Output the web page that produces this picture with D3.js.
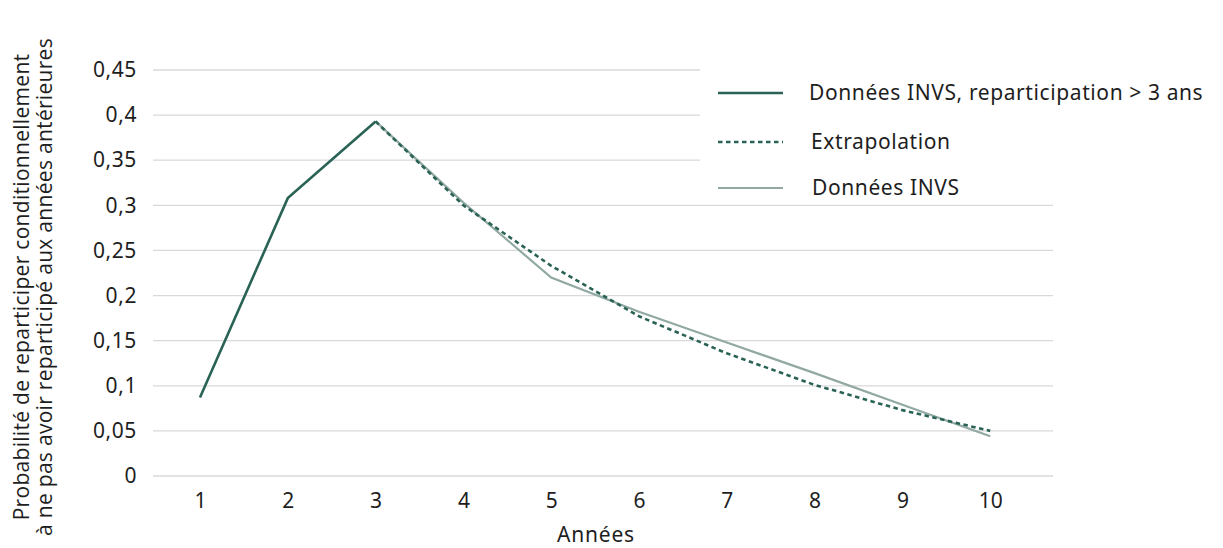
<!DOCTYPE html>
<html>
<head>
<meta charset="utf-8">
<script src="https://cdn.jsdelivr.net/npm/d3@7"></script>
<style>
  html, body { margin: 0; padding: 0; background: #fff; }
  svg { display: block; }
</style>
</head>
<body>
<svg id="chart" width="1223" height="548"></svg>
<script>
// ---- Data ----
const years = [1, 2, 3, 4, 5, 6, 7, 8, 9, 10];
const invs3ans = [0.087, 0.308, 0.393];                                   // years 1-3
const extrapolation = [null, null, 0.393, 0.300, 0.233, 0.177, 0.136, 0.101, 0.073, 0.050];
const invs = [0.087, 0.308, 0.393, 0.303, 0.220, 0.182, 0.148, 0.114, 0.079, 0.044];
const yTicks = [0, 0.05, 0.1, 0.15, 0.2, 0.25, 0.3, 0.35, 0.4, 0.45];
const yTickLabels = ["0", "0,05", "0,1", "0,15", "0,2", "0,25", "0,3", "0,35", "0,4", "0,45"];
const legendLabels = ["Données INVS, reparticipation > 3 ans", "Extrapolation", "Données INVS"];
const yTitle = ["Probabilité de reparticiper conditionnellement", "à ne pas avoir reparticipé aux années antérieures"];
const xTitle = "Années";

// ---- Style ----
const darkColor = "#2a6356";
const lightColor = "#91a9a2";
const gridColor = "#d9d9d9";
const textColor = "#1e1e1e";
const mainFont = "'Noto Sans', 'Open Sans', sans-serif";
const fontSize = 21;
const spacing = 0.6;

const svg = d3.select("#chart");

const x = d3.scaleLinear().domain([0.465, 10.715]).range([153, 1053]);
const y = d3.scaleLinear().domain([0, 0.45]).range([476, 70]);

// Gridlines
svg.append("g")
  .selectAll("line")
  .data(yTicks)
  .join("line")
  .attr("x1", x.range()[0])
  .attr("x2", x.range()[1])
  .attr("y1", d => y(d))
  .attr("y2", d => y(d))
  .attr("stroke", gridColor)
  .attr("stroke-width", 1.3);

// Y axis tick labels
const yAxis = d3.axisLeft(y).tickValues(yTicks).tickSize(0).tickPadding(0)
  .tickFormat((d, i) => yTickLabels[i]);
svg.append("g")
  .attr("transform", `translate(137,0)`)
  .call(yAxis)
  .call(g => g.select(".domain").remove())
  .selectAll("text")
  .attr("font-family", mainFont)
  .attr("font-size", fontSize)
  .attr("letter-spacing", spacing)
  .attr("fill", textColor);

// X axis tick labels
const xAxis = d3.axisBottom(x).tickValues(years).tickSize(0).tickPadding(0)
  .tickFormat(d3.format("d"));
svg.append("g")
  .attr("transform", `translate(0,493)`)
  .call(xAxis)
  .call(g => g.select(".domain").remove())
  .selectAll("text")
  .attr("font-family", mainFont)
  .attr("font-size", fontSize)
  .attr("fill", textColor);

// Axis titles
svg.append("text")
  .attr("x", 596).attr("y", 542)
  .attr("text-anchor", "middle")
  .attr("font-family", mainFont)
  .attr("font-size", fontSize)
  .attr("letter-spacing", 0.8)
  .attr("fill", textColor)
  .text(xTitle);

const yt = svg.append("text")
  .attr("transform", "translate(0,287) rotate(-90)")
  .attr("text-anchor", "middle")
  .attr("font-family", "'Open Sans', sans-serif")
  .attr("font-size", fontSize)
  .attr("letter-spacing", 0.3)
  .attr("fill", textColor);
yt.append("tspan").attr("x", 0).attr("y", 29).text(yTitle[0]);
yt.append("tspan").attr("x", 0).attr("y", 52).text(yTitle[1]);

// Lines
const line = d3.line()
  .defined(d => d[1] != null)
  .x(d => x(d[0]))
  .y(d => y(d[1]));

svg.append("path")
  .datum(years.map((yr, i) => [yr, invs[i]]).filter(d => d[0] >= 3))
  .attr("d", line)
  .attr("fill", "none")
  .attr("stroke", lightColor)
  .attr("stroke-width", 2.2);

svg.append("path")
  .datum(years.map((yr, i) => [yr, extrapolation[i]]))
  .attr("d", line)
  .attr("fill", "none")
  .attr("stroke", darkColor)
  .attr("stroke-width", 2.6)
  .attr("stroke-dasharray", "4.5,3.5");

svg.append("path")
  .datum(invs3ans.map((v, i) => [years[i], v]))
  .attr("d", line)
  .attr("fill", "none")
  .attr("stroke", darkColor)
  .attr("stroke-width", 2.6);

// Legend (white box hiding gridlines)
svg.append("rect")
  .attr("x", 700).attr("y", 60)
  .attr("width", 1223 - 700).attr("height", 140)
  .attr("fill", "#fff");

const legendRows = [
  { label: legendLabels[0], color: darkColor, dash: null, width: 2.6, y: 93, tx: 809 },
  { label: legendLabels[1], color: darkColor, dash: "4.5,3.5", width: 2.6, y: 142, tx: 811 },
  { label: legendLabels[2], color: lightColor, dash: null, width: 2.2, y: 188, tx: 812 }
];
const lg = svg.append("g").selectAll("g").data(legendRows).join("g");
lg.append("line")
  .attr("x1", 718).attr("x2", 783)
  .attr("y1", d => d.y).attr("y2", d => d.y)
  .attr("stroke", d => d.color)
  .attr("stroke-width", d => d.width)
  .attr("stroke-dasharray", d => d.dash);
lg.append("text")
  .attr("x", d => d.tx).attr("y", d => d.y)
  .attr("dy", "0.35em")
  .attr("font-family", mainFont)
  .attr("font-size", fontSize)
  .attr("letter-spacing", spacing)
  .attr("fill", textColor)
  .text(d => d.label);
</script>
</body>
</html>
